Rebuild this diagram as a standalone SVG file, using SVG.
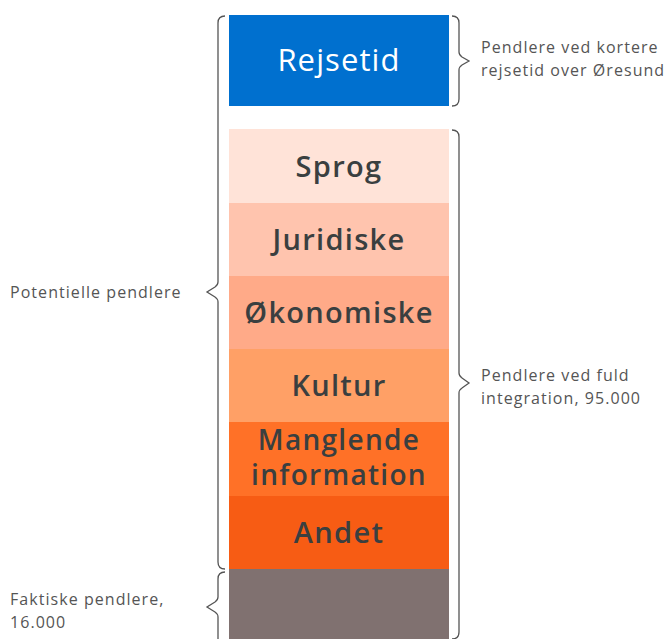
<svg xmlns="http://www.w3.org/2000/svg" width="665" height="639" viewBox="0 0 665 639">
<style>
.lbl{font-family:"Open Sans",Lato,sans-serif;font-weight:600;font-size:29px;letter-spacing:1.3px;fill:#3a3f40;text-anchor:middle}
.side{font-family:"Open Sans",Lato,sans-serif;font-size:16px;letter-spacing:1.05px;fill:#555}
.brace{fill:none;stroke:#555;stroke-width:1.3}
</style>
<rect width="665" height="639" fill="#fff"/>
<g id="rejsetid"><rect x="229" y="15" width="220" height="91" fill="#0070cf"/><text class="lbl" x="339" y="71" style="fill:#fff;font-size:31px;font-weight:500;letter-spacing:1.1px">Rejsetid</text></g>
<g id="sprog"><rect x="229" y="129" width="220" height="74" fill="#ffe3d8"/><text class="lbl" x="339" y="177">Sprog</text></g>
<g id="juridiske"><rect x="229" y="203" width="220" height="74" fill="#ffc4ae"/><text class="lbl" x="339" y="250">Juridiske</text></g>
<g id="okonomiske"><rect x="229" y="276" width="220" height="74" fill="#ffaa88"/><text class="lbl" x="339" y="323">Økonomiske</text></g>
<g id="kultur"><rect x="229" y="349" width="220" height="74" fill="#ffa066"/><text class="lbl" x="339" y="396">Kultur</text></g>
<g id="manglende"><rect x="229" y="422" width="220" height="75" fill="#ff7127"/><text class="lbl" x="339" y="450" style="font-size:28px">Manglende</text><text class="lbl" x="339" y="485" style="font-size:28px">information</text></g>
<g id="andet"><rect x="229" y="496" width="220" height="74" fill="#f75c14"/><text class="lbl" x="339" y="543">Andet</text></g>
<g id="faktiske"><rect x="229" y="569" width="220" height="70" fill="#807170"/></g>
<g id="connectors">
<path class="brace" d="M225,16 Q218,16 218,23 L218,282 Q218,285 215,287 L207,292 L215,297 Q218,299 218,302 L218,562 Q218,569 225,569"/>
<path class="brace" d="M452,16 Q459,16 459,23 L459,52 Q459,55 462,57 L469,61 L462,65 Q459,67 459,70 L459,99 Q459,106 452,106"/>
<path class="brace" d="M452,130 Q459,130 459,137 L459,373 Q459,376 462,378 L469,383 L462,388 Q459,390 459,393 L459,632 Q459,639 452,639"/>
<path class="brace" d="M225,572 Q218,572 218,579 L218,597 Q218,600 215,602 L207,607 L215,612 Q218,614 218,617 L218,640"/>
</g>
<g id="labels">
<text class="side" x="481" y="53">Pendlere ved kortere</text>
<text class="side" x="481" y="76">rejsetid over Øresund</text>
<text class="side" x="10" y="298">Potentielle pendlere</text>
<text class="side" x="481" y="381">Pendlere ved fuld</text>
<text class="side" x="481" y="404">integration, 95.000</text>
<text class="side" x="10" y="605">Faktiske pendlere,</text>
<text class="side" x="10" y="628">16.000</text>
</g>
</svg>
